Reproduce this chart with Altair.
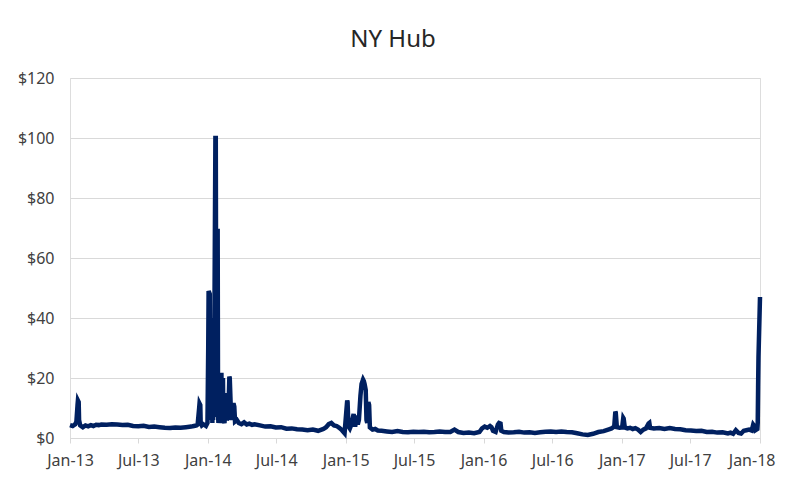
import altair as alt
import pandas as pd

dates = [
    "2013-01-01", "2013-01-08", "2013-01-15", "2013-01-18", "2013-01-21", "2013-01-22", "2013-01-24", "2013-01-25",
    "2013-01-28", "2013-02-04", "2013-02-11", "2013-02-18", "2013-02-25", "2013-03-04", "2013-03-11", "2013-03-18",
    "2013-03-25", "2013-04-08", "2013-04-22", "2013-05-06", "2013-05-20", "2013-06-03", "2013-06-17", "2013-07-01",
    "2013-07-15", "2013-07-29", "2013-08-12", "2013-08-26", "2013-09-09", "2013-09-23", "2013-10-07", "2013-10-21",
    "2013-11-04", "2013-11-18", "2013-11-25", "2013-12-02", "2013-12-05", "2013-12-09", "2013-12-10", "2013-12-12",
    "2013-12-13", "2013-12-16", "2013-12-20", "2013-12-27", "2013-12-31",
    "2014-01-02", "2014-01-03", "2014-01-06", "2014-01-07", "2014-01-08", "2014-01-09", "2014-01-10", "2014-01-13",
    "2014-01-14", "2014-01-15", "2014-01-16", "2014-01-17", "2014-01-21", "2014-01-22", "2014-01-23", "2014-01-24",
    "2014-01-27", "2014-01-28", "2014-01-29", "2014-01-31", "2014-02-03", "2014-02-05", "2014-02-06", "2014-02-07",
    "2014-02-10", "2014-02-11", "2014-02-14", "2014-02-18", "2014-02-19", "2014-02-20", "2014-02-24", "2014-02-27",
    "2014-02-28", "2014-03-03", "2014-03-05", "2014-03-07", "2014-03-11", "2014-03-12", "2014-03-14", "2014-03-19",
    "2014-03-24", "2014-03-31", "2014-04-07", "2014-04-14", "2014-04-21", "2014-04-28", "2014-05-05", "2014-05-19",
    "2014-06-02", "2014-06-16", "2014-06-30", "2014-07-14", "2014-07-28", "2014-08-11", "2014-08-25", "2014-09-08",
    "2014-09-22", "2014-10-06", "2014-10-20", "2014-11-03", "2014-11-10", "2014-11-17", "2014-11-24", "2014-12-01",
    "2014-12-08", "2014-12-15", "2014-12-22", "2014-12-29",
    "2015-01-05", "2015-01-06", "2015-01-08", "2015-01-12", "2015-01-16", "2015-01-22", "2015-01-23", "2015-01-26",
    "2015-01-30", "2015-02-02", "2015-02-05", "2015-02-09", "2015-02-12", "2015-02-16", "2015-02-18", "2015-02-20",
    "2015-02-23", "2015-02-25", "2015-02-27", "2015-03-02", "2015-03-04", "2015-03-06", "2015-03-13", "2015-03-20",
    "2015-03-27", "2015-04-06", "2015-04-20", "2015-05-04", "2015-05-18", "2015-06-01", "2015-06-15", "2015-06-29",
    "2015-07-13", "2015-07-27", "2015-08-10", "2015-08-24", "2015-09-07", "2015-09-21", "2015-10-05", "2015-10-16",
    "2015-10-26", "2015-11-09", "2015-11-23", "2015-12-07", "2015-12-21", "2015-12-28",
    "2016-01-04", "2016-01-11", "2016-01-18", "2016-01-22", "2016-01-26", "2016-02-02", "2016-02-08", "2016-02-11",
    "2016-02-15", "2016-02-17", "2016-02-24", "2016-03-07", "2016-03-21", "2016-04-04", "2016-04-18", "2016-05-02",
    "2016-05-16", "2016-05-30", "2016-06-13", "2016-06-27", "2016-07-11", "2016-07-25", "2016-08-08", "2016-08-22",
    "2016-09-05", "2016-09-19", "2016-10-03", "2016-10-17", "2016-10-31", "2016-11-14", "2016-11-28", "2016-12-05",
    "2016-12-12", "2016-12-15", "2016-12-16", "2016-12-19", "2016-12-26", "2017-01-02",
    "2017-01-05", "2017-01-06", "2017-01-09", "2017-01-16", "2017-01-23", "2017-01-30", "2017-02-06", "2017-02-13",
    "2017-02-20", "2017-02-27", "2017-03-06", "2017-03-13", "2017-03-15", "2017-03-17", "2017-03-27", "2017-04-10",
    "2017-04-24", "2017-05-08", "2017-05-22", "2017-06-05", "2017-06-19", "2017-07-03", "2017-07-17", "2017-07-31",
    "2017-08-14", "2017-08-28", "2017-09-11", "2017-09-25", "2017-10-09", "2017-10-16", "2017-10-23", "2017-10-30",
    "2017-11-06", "2017-11-13", "2017-11-20", "2017-11-27", "2017-12-04", "2017-12-11", "2017-12-15", "2017-12-18",
    "2017-12-21", "2017-12-26", "2017-12-27", "2017-12-28", "2017-12-29", "2018-01-02",
]

prices = [
    4.3, 4.0, 4.6, 5.5, 11, 12.5, 12, 6,
    4.2, 3.6, 4.2, 3.9, 4.3, 4.0, 4.4, 4.3,
    4.5, 4.4, 4.6, 4.5, 4.3, 4.4, 4.0, 3.9,
    4.1, 3.7, 3.8, 3.6, 3.4, 3.3, 3.5, 3.4,
    3.6, 3.8, 4.0, 4.2, 4.5, 10, 11.5, 11,
    5, 4.2, 4.6, 4.0, 5,
    30, 49, 48, 12, 40, 6, 25, 5,
    15, 6, 22, 7, 100, 100, 40, 69,
    69, 8, 5, 9, 5, 21, 21, 12,
    20, 6, 5, 14, 15, 6, 7, 20.5,
    20, 9, 6, 11, 11, 10.5, 5.5, 6,
    5, 4.6, 5.2, 4.5, 4.8, 4.4, 4.6, 4.2,
    3.8, 3.9, 3.5, 3.6, 3.1, 3.2, 2.9, 2.8,
    2.6, 2.8, 2.4, 3.0, 3.6, 4.6, 5.0, 4.2,
    4.0, 3.4, 2.6, 1.6,
    12.5, 12, 4, 3.2, 4.5, 8, 7, 3.8,
    7.5, 4.5, 6, 14, 18, 19.5, 19, 18,
    16, 6, 5, 12, 11, 3.5, 2.8, 3.0,
    2.5, 2.4, 2.2, 2.0, 2.3, 2.0, 1.9, 2.1,
    2.0, 2.1, 1.9, 2.0, 2.2, 2.0, 2.0, 2.8,
    2.0, 1.7, 1.8, 1.6, 2.0, 3.2,
    3.8, 3.4, 4.0, 3.6, 2.4, 2.0, 4.5, 5.0,
    4.8, 2.4, 2.0, 1.8, 1.9, 2.1, 1.8, 1.9,
    1.7, 1.9, 2.1, 2.2, 2.0, 2.2, 2.0, 1.9,
    1.6, 1.2, 1.0, 1.4, 2.0, 2.3, 2.9, 3.2,
    3.8, 8.8, 8.5, 3.6, 3.4, 3.5,
    6.7, 6.5, 3.5, 3.2, 3.4, 3.0, 3.3, 2.8,
    2.0, 2.8, 3.2, 4.8, 5.0, 3.4, 3.2, 3.3,
    3.0, 3.3, 3.0, 2.9, 2.6, 2.5, 2.3, 2.4,
    2.0, 2.1, 1.8, 1.9, 1.5, 1.8, 1.4, 2.6,
    1.7, 1.5, 2.4, 2.6, 2.8, 2.5, 4.5, 4.0,
    2.6, 3.0, 5, 17, 27, 47,
]

tick_years = [2013, 2013, 2014, 2014, 2015, 2015, 2016, 2016, 2017, 2017, 2018]
tick_months = [1, 7, 1, 7, 1, 7, 1, 7, 1, 7, 1]
y_ticks = [0, 20, 40, 60, 80, 100, 120]

df = pd.DataFrame({"date": dates, "price": prices})

tick_values = [alt.DateTime(year=y, month=m, date=1, utc=True) for y, m in zip(tick_years, tick_months)]

FONT = "Noto Sans"

chart = (
    alt.Chart(df)
    .mark_line(color="#002060", strokeWidth=4.5)
    .encode(
        x=alt.X(
            "date:T",
            scale=alt.Scale(
                type="utc",
                domain=[
                    alt.DateTime(year=2013, month=1, date=1, utc=True),
                    alt.DateTime(year=2018, month=1, date=2, utc=True),
                ],
            ),
            axis=alt.Axis(
                values=tick_values,
                format="%b-%y",
                title=None,
                grid=False,
                domainColor="#d9d9d9",
                tickColor="#d9d9d9",
                tickSize=5,
                labelPadding=9,
                labelFont=FONT,
                labelFontSize=16,
                labelColor="#404040",
                labelFlush=False,
                labelOverlap=False,
                labelOffset={
                    "condition": {"test": "datum.value >= utc(2017, 11, 1)", "value": -8},
                    "value": 0,
                },
            ),
        ),
        y=alt.Y(
            "price:Q",
            scale=alt.Scale(domain=[0, 120]),
            axis=alt.Axis(
                values=y_ticks,
                format="$.0f",
                title=None,
                domain=False,
                ticks=False,
                gridColor="#d9d9d9",
                labelPadding=16,
                labelFont=FONT,
                labelFontSize=16,
                labelColor="#404040",
            ),
        ),
    )
    .properties(
        width=690,
        height=360,
        autosize="none",
        padding={"left": 62, "top": 70, "right": 18, "bottom": 40},
        title=alt.TitleParams(
            "NY Hub", font=FONT, fontSize=24, fontWeight="normal", color="#262626",
            offset=18, dx=-22,
        ),
    )
    .configure_view(stroke=None)
    .configure(background="white")
)

chart.save("out.html", embed_options={"renderer": "svg", "actions": False})
